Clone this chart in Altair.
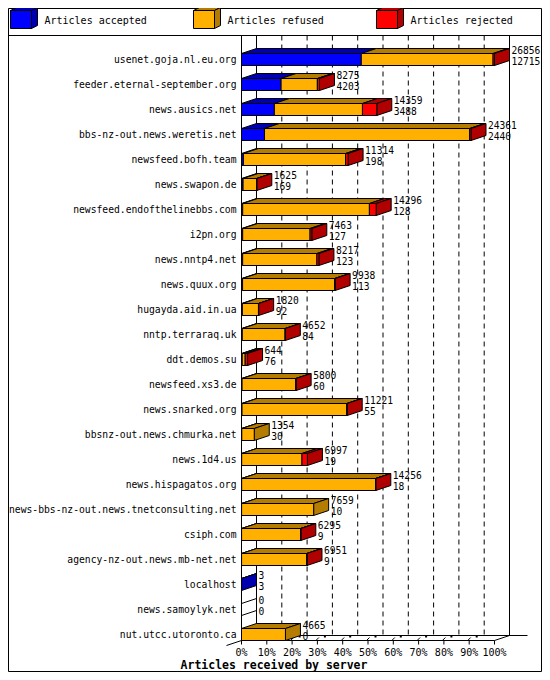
import altair as alt
import pandas as pd

# ---------------- data ----------------
servers = [
    "usenet.goja.nl.eu.org",
    "feeder.eternal-september.org",
    "news.ausics.net",
    "bbs-nz-out.news.weretis.net",
    "newsfeed.bofh.team",
    "news.swapon.de",
    "newsfeed.endofthelinebbs.com",
    "i2pn.org",
    "news.nntp4.net",
    "news.quux.org",
    "hugayda.aid.in.ua",
    "nntp.terraraq.uk",
    "ddt.demos.su",
    "newsfeed.xs3.de",
    "news.snarked.org",
    "bbsnz-out.news.chmurka.net",
    "news.1d4.us",
    "news.hispagatos.org",
    "news-bbs-nz-out.news.tnetconsulting.net",
    "csiph.com",
    "agency-nz-out.news.mb-net.net",
    "localhost",
    "news.samoylyk.net",
    "nut.utcc.utoronto.ca",
]
totals = [26856, 8275, 14359, 24361, 11314, 1625, 14296, 7463, 8217, 9938,
          1820, 4652, 644, 5800, 11221, 1354, 6997, 14256, 7659, 6295,
          6951, 3, 0, 4665]
accepted = [12715, 4203, 3488, 2440, 198, 169, 128, 127, 123, 113,
            92, 84, 76, 60, 55, 30, 19, 18, 10, 9,
            9, 3, 0, 0]
refused = [13990, 3850, 9350, 21780, 10850, 1426, 13448, 7150, 7880, 9785,
           1708, 4543, 314, 5705, 11116, 1324, 6400, 14208, 7649, 6266,
           6922, 0, 0, 4665]
rejected = [151, 222, 1521, 141, 266, 30, 720, 186, 214, 40,
            20, 25, 254, 35, 50, 0, 578, 30, 0, 20,
            20, 0, 0, 0]
pct_ticks = [0, 10, 20, 30, 40, 50, 60, 70, 80, 90, 100]
legend_labels = ["Articles accepted", "Articles refused", "Articles rejected"]
x_title = "Articles received by server"

# ---------------- style ----------------
front_colors = ["#0000ff", "#ffb000", "#ff0000"]
dark_colors = ["#0000b0", "#b47c00", "#b00000"]
FONT = "DejaVu Sans Mono"
W, H = 534, 664
n = len(servers)
MAXV = max(totals)
X_RANGE = [233.5, 486.5]
Y_RANGE = [51.5, 626.5]
UX = MAXV / (X_RANGE[1] - X_RANGE[0])      # data units per pixel (x)
UY = (n - 1) / (Y_RANGE[1] - Y_RANGE[0])   # rows per pixel (y)
DX, DY, HB = 15 * UX, 5 * UY, 6 * UY        # 3D depth and half bar height


def ypx(c):
    return (c - Y_RANGE[0]) * UY


TOPY = ypx(27.5)
FRONTY = (n - 1) + HB
BACKY = FRONTY - DY

xs = alt.Scale(domain=[0, MAXV], range=X_RANGE, nice=False, zero=False)
ys = alt.Scale(domain=[0, n - 1], range=Y_RANGE, nice=False, zero=False)


def X(f):
    return alt.X(f, scale=xs, axis=None)


def Y(f):
    return alt.Y(f, scale=ys, axis=None)


def XD(v):
    return alt.XDatum(v, scale=xs, axis=None)


def YD(v):
    return alt.YDatum(v, scale=ys, axis=None)


ONE = alt.Data(values=[{}])


def seg(x, y, x2, y2, **mk):
    return alt.Chart(ONE).mark_rule(color="black", strokeWidth=1, opacity=1, **mk).encode(
        x=XD(x), y=YD(y), x2=alt.X2Datum(x2), y2=alt.Y2Datum(y2))


# ---------------- tables built from the arrays ----------------
seg_vals = [accepted, refused, rejected]
front_rows, top_rows, side_rows = [], [], []
for i in range(n):
    start = 0
    last = None
    for k in range(3):
        v = seg_vals[k][i]
        if v <= 0:
            continue
        x0, x1 = start, start + v
        key = f"{i}-{k}"
        front_rows.append(dict(i0=i - HB, i1=i + HB, x0=x0, x1=x1, fill=front_colors[k]))
        top_rows.append(dict(key=key, y=i - HB, xa=x0, xb=x1, fill=dark_colors[k]))
        top_rows.append(dict(key=key, y=i - HB - DY, xa=x0 + DX, xb=x1 + DX, fill=dark_colors[k]))
        start = x1
        last = k
    fill = dark_colors[last] if last is not None else "transparent"
    side_rows.append(dict(key=str(i), x=start, ya=i - HB, yb=i + HB, fill=fill))
    side_rows.append(dict(key=str(i), x=start + DX, ya=i - HB - DY, yb=i + HB - DY, fill=fill))

front_df = pd.DataFrame(front_rows)
top_df = pd.DataFrame(top_rows)
side_df = pd.DataFrame(side_rows)

rows_df = pd.DataFrame({"server": servers, "i": list(range(n)),
                        "total": totals, "acc": accepted})

ticks = pd.DataFrame({"t": pct_ticks})
ticks["xv"] = ticks.t / 100 * MAXV
ticks["xb"] = ticks.xv + DX
ticks["lab"] = ticks.t.astype(str) + "%"
ticks["sx0"] = ticks.xv - 1.5 * UX
ticks["sx1"] = ticks.xv + 1.5 * UX
ticks["dotx"] = ticks.xv + 7.5 * UX
inner = ticks[(ticks.t > 0) & (ticks.t < 100)]
walls = ticks[(ticks.t == 0) | (ticks.t == 100)]

leg = pd.DataFrame({"label": legend_labels, "front": front_colors, "dark": dark_colors})
leg["bx"] = [2.5 + 183 * k for k in range(len(leg))]
leg["bx1"] = leg.bx + 21
leg["by0"] = 2.5
leg["by1"] = 20.5
leg["tx"] = leg.bx + 34
leg["ty"] = 12.5


def PX(f):
    return alt.X(f, scale=None, axis=None)


def PY(f):
    return alt.Y(f, scale=None, axis=None)


# ---------------- layers ----------------
layers = []

# frame and legend separator
layers.append(alt.Chart(ONE).mark_rect(fillOpacity=0, stroke="black", strokeWidth=1).encode(
    x=alt.value(0.5), x2=alt.value(W - 0.5), y=alt.value(0.5), y2=alt.value(H - 0.5)))
layers.append(alt.Chart(ONE).mark_rule(color="black", strokeWidth=1).encode(
    x=alt.value(0), x2=alt.value(W), y=alt.value(27.5)))

# legend boxes
layers.append(alt.Chart(leg).mark_point(
    shape="M0,0L21,0L27,-3L6,-3Z", size=4, filled=True, opacity=1,
    stroke="black", strokeWidth=1).encode(
    x=PX("bx:Q"), y=PY("by0:Q"), color=alt.Color("dark:N", scale=None)))
layers.append(alt.Chart(leg).mark_point(
    shape="M0,0L6,-3L6,15L0,18Z", size=4, filled=True, opacity=1,
    stroke="black", strokeWidth=1).encode(
    x=PX("bx1:Q"), y=PY("by0:Q"), color=alt.Color("dark:N", scale=None)))
layers.append(alt.Chart(leg).mark_rect(stroke="black", strokeWidth=1, opacity=1).encode(
    x=PX("bx:Q"), x2="bx1:Q", y=PY("by0:Q"), y2="by1:Q",
    color=alt.Color("front:N", scale=None)))
layers.append(alt.Chart(leg).mark_text(align="left", baseline="middle", font=FONT,
                                       fontSize=10, color="black").encode(
    x=PX("tx:Q"), y=PY("ty:Q"), text="label:N"))

# back wall grid
layers.append(alt.Chart(inner).mark_rule(color="black", strokeWidth=1, strokeDash=[5, 4]).encode(
    x=X("xb:Q"), y=YD(TOPY), y2=alt.Y2Datum(BACKY)))
layers.append(alt.Chart(walls).mark_rule(color="black", strokeWidth=1).encode(
    x=X("xb:Q"), y=YD(TOPY), y2=alt.Y2Datum(BACKY)))

# floor
layers.append(seg(DX, BACKY, MAXV + DX + 18 * UX, BACKY))
layers.append(seg(0, FRONTY, MAXV, FRONTY))
layers.append(seg(MAXV, FRONTY, MAXV + DX, BACKY))
layers.append(seg(-DX, FRONTY + DY, DX, BACKY))
layers.append(alt.Chart(inner).mark_rule(color="black", strokeWidth=1).encode(
    x=X("sx0:Q"), x2="sx1:Q", y=YD(FRONTY), y2=alt.Y2Datum(FRONTY - 3 * UY)))
layers.append(alt.Chart(inner).mark_square(size=4, color="black", opacity=1).encode(
    x=X("dotx:Q"), y=YD(BACKY + 1 * UY)))
layers.append(alt.Chart(ticks).mark_rule(color="black", strokeWidth=1).encode(
    x=X("xv:Q"), y=YD(FRONTY), y2=alt.Y2Datum(FRONTY + 4 * UY)))
layers.append(alt.Chart(ticks).mark_text(align="center", baseline="middle", font=FONT,
                                         fontSize=10, color="black").encode(
    x=X("xv:Q"), y=alt.value(644.5), text="lab:N"))

# 3D bars
layers.append(alt.Chart(top_df).mark_area(orient="horizontal", stroke="black",
                                          strokeWidth=1, opacity=1).encode(
    y=Y("y:Q"), x=alt.X("xa:Q", scale=xs, axis=None, stack=None), x2="xb:Q",
    detail="key:N", color=alt.Color("fill:N", scale=None)))
layers.append(alt.Chart(side_df).mark_area(orient="vertical", stroke="black",
                                           strokeWidth=1, opacity=1).encode(
    x=X("x:Q"), y=alt.Y("ya:Q", scale=ys, axis=None, stack=None), y2="yb:Q",
    detail="key:N", color=alt.Color("fill:N", scale=None)))
layers.append(alt.Chart(front_df).mark_rect(stroke="black", strokeWidth=1, opacity=1).encode(
    x=X("x0:Q"), x2="x1:Q", y=Y("i0:Q"), y2="i1:Q",
    color=alt.Color("fill:N", scale=None)))

# front left axis
layers.append(seg(0, TOPY, 0, FRONTY))

# labels
layers.append(alt.Chart(rows_df).mark_text(align="right", baseline="middle", font=FONT,
                                           fontSize=9.7, color="black").encode(
    x=alt.value(228.5), y=Y("i:Q"), text="server:N"))
layers.append(alt.Chart(rows_df).mark_text(align="left", baseline="middle", font=FONT,
                                           fontSize=9.6, color="black", dx=17, dy=-9).encode(
    x=X("total:Q"), y=Y("i:Q"), text="total:N"))
layers.append(alt.Chart(rows_df).mark_text(align="left", baseline="middle", font=FONT,
                                           fontSize=9.6, color="black", dx=17, dy=2).encode(
    x=X("total:Q"), y=Y("i:Q"), text="acc:N"))
layers.append(alt.Chart(ONE).mark_text(text=x_title, font=FONT, fontSize=11.5,
                                       fontWeight="bold", align="center",
                                       baseline="middle", color="black").encode(
    x=alt.value(266), y=alt.value(658)))

chart = alt.layer(*layers).properties(
    width=W, height=H, padding=0,
    autosize=alt.AutoSizeParams(type="none"),
    background="white",
).configure_view(stroke=None)

chart.save("out.html", embed_options={"renderer": "svg", "actions": False})
